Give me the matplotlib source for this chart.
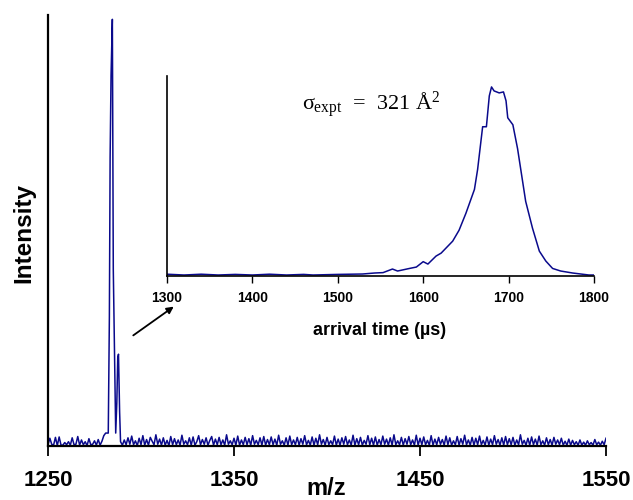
import numpy as np
import matplotlib
matplotlib.use("Agg")
import matplotlib.pyplot as plt
from matplotlib.patches import FancyArrowPatch

plt.rcParams['font.family'] = ['Liberation Sans', 'DejaVu Sans']
plt.rcParams['mathtext.fontset'] = 'custom'
plt.rcParams['mathtext.rm'] = 'Liberation Serif'
plt.rcParams['mathtext.it'] = 'Liberation Serif'

LINE = '#0a0a8c'

# --- mass spectrum (m/z vs intensity, 0-100) ---
# baseline noise, 1 m/z steps from 1250
noise_left_start = 1250
noise_left = [0.3, 1.8, 0.4, 0.2, 2.0, 0.1, 2.1, 0.2, 0.2, 0.8, 0.3, 1.0, 0.2, 1.9, 0.3, 0.4,
              2.2, 0.2, 1.4, 0.3, 1.0, 0.1, 1.7, 0.3, 0.4, 1.2, 0.2, 1.5, 0.2, 1.1, 2.4, 3.0]

# main peak + isotope peak
peak_mz = [1282.4, 1283.0, 1283.4, 1283.9, 1284.6, 1284.7, 1285.1, 1285.6, 1286.4,
           1287.0, 1287.5, 1287.9, 1288.5, 1289.0]
peak_int = [3.0, 30.0, 67.0, 86.0, 99.0, 86.0, 41.0, 26.0, 3.0, 10.0, 20.5, 21.3, 8.0, 1.0]

# baseline noise, 1 m/z steps from 1290
noise_right_start = 1290
noise_right = [
    0.2, 1.4, 0.3, 1.9, 0.4, 2.3, 0.3, 1.2, 0.1, 1.8, 0.3, 2.4, 0.2, 1.5, 0.2, 2.0, 1.1, 0.3, 2.6, 0.4,
    1.6, 0.2, 1.9, 0.2, 1.3, 0.1, 2.2, 0.3, 1.7, 0.3, 1.4, 0.2, 2.5, 0.4, 1.2, 0.3, 1.9, 0.2, 2.1, 0.2,
    1.0, 2.4, 0.3, 1.5, 0.4, 1.9, 0.2, 1.3, 2.2, 0.2, 1.6, 0.3, 2.0, 0.3, 1.4, 0.2, 2.6, 0.4, 1.2, 0.3,
    1.8, 0.2, 2.3, 0.2, 1.4, 0.3, 2.0, 0.3, 1.7, 0.2, 2.4, 0.4, 1.3, 0.3, 1.9, 0.2, 2.2, 0.2, 1.5, 0.3,
    2.1, 0.3, 1.6, 0.2, 2.5, 0.4, 1.2, 0.2, 1.9, 0.2, 2.3, 0.3, 1.4, 0.3, 2.0, 0.2, 1.7, 0.4, 2.4, 0.3,
    1.3, 0.2, 2.1, 0.2, 1.8, 0.3, 2.6, 0.4, 1.5, 0.2, 2.0, 0.3, 1.2, 0.3, 2.3, 0.2, 1.6, 0.2, 1.9, 0.4,
    2.2, 0.3, 1.4, 0.2, 2.5, 0.2, 1.7, 0.3, 2.0, 0.2, 1.3, 0.4, 2.4, 0.3, 1.8, 0.2, 2.1, 0.2, 1.5, 0.3,
    2.3, 0.4, 1.6, 0.2, 1.9, 0.2, 2.6, 0.3, 1.2, 0.3, 2.0, 0.2, 1.7, 0.4, 2.2, 0.3, 1.4, 0.2, 2.5, 0.2,
    1.8, 0.3, 2.1, 0.3, 1.3, 0.2, 2.4, 0.2, 1.6, 0.3, 2.0, 0.4, 1.5, 0.2, 2.3, 0.3, 1.9, 0.2, 1.2, 0.3,
    2.2, 0.2, 1.7, 0.4, 2.5, 0.3, 1.4, 0.2, 2.0, 0.2, 1.8, 0.3, 2.3, 0.3, 1.3, 0.2, 2.1, 0.2, 1.6, 0.3,
    2.4, 0.4, 1.5, 0.2, 1.9, 0.2, 2.2, 0.3, 1.7, 0.3, 2.0, 0.2, 1.4, 0.3, 2.6, 0.4, 1.3, 0.2, 1.8, 0.2,
    2.1, 0.3, 1.6, 0.2, 2.3, 0.3, 1.2, 0.2, 1.9, 0.3, 1.5, 0.2, 2.0, 0.4, 1.4, 0.3, 1.8, 0.2, 1.1, 0.2,
    1.6, 0.2, 1.3, 0.3, 1.0, 0.2, 1.4, 0.2, 0.9, 0.2, 1.2, 0.3, 0.8, 0.2, 1.5, 0.3, 0.9, 0.2, 1.1, 0.3,
    1.8]

mz_ticks = [1250, 1350, 1450, 1550]

# --- arrival time distribution (inset) ---
arrival_us = [1300, 1320, 1340, 1360, 1380, 1400, 1420, 1440, 1460, 1471, 1500, 1529, 1543,
              1553, 1564, 1570, 1584, 1592, 1600, 1605.5, 1615, 1621, 1634.5, 1642, 1650,
              1660, 1663.7, 1669.6, 1674, 1677.4, 1680, 1683, 1689, 1694, 1697, 1699, 1705,
              1710.5, 1720, 1728, 1736, 1743.6, 1751.5, 1761, 1775, 1794, 1800]
arrival_int = [0.004, 0.0, 0.004, 0.0, 0.003, 0.0, 0.004, 0.0, 0.003, 0.0, 0.003, 0.005, 0.01,
               0.012, 0.03, 0.02, 0.033, 0.04, 0.067, 0.055, 0.095, 0.11, 0.17, 0.225, 0.31,
               0.43, 0.53, 0.745, 0.745, 0.9, 0.945, 0.925, 0.915, 0.92, 0.875, 0.79, 0.755,
               0.635, 0.37, 0.235, 0.12, 0.07, 0.033, 0.02, 0.01, 0.0, 0.0]
at_ticks = [1300, 1400, 1500, 1600, 1700, 1800]

W, H = 633, 500
fig = plt.figure(figsize=(W / 100, H / 100), dpi=100)

# main spectrum
ax = fig.add_axes([48 / W, 1 - 446 / H, (606 - 48) / W, (446 - 15) / H])
mz = np.concatenate([noise_left_start + np.arange(len(noise_left)), peak_mz,
                     noise_right_start + np.arange(len(noise_right))])
inten = np.concatenate([noise_left, peak_int, noise_right])
ax.plot(mz, inten, color=LINE, lw=1.1)
ax.set_xlim(1250, 1550)
ax.set_ylim(0, 100)
ax.set_xticks(mz_ticks)
ax.set_yticks([])
for s in ['top', 'right']:
    ax.spines[s].set_visible(False)
for s in ['left', 'bottom']:
    ax.spines[s].set_linewidth(1.6)
ax.tick_params(axis='x', direction='out', length=7, width=1.3, pad=10, labelsize=16)
for lbl in ax.get_xticklabels():
    lbl.set_fontweight('bold')

fig.text(326 / W, 1 - 495 / H, 'm/z', ha='center', va='baseline', fontsize=17, fontweight='bold')
fig.text(24 / W, 1 - 233 / H, 'Intensity', rotation=90, ha='center', va='center',
         fontsize=17.5, fontweight='bold')

# inset
ax2 = fig.add_axes([167 / W, 1 - 276 / H, (594 - 167) / W, (276 - 76) / H])
ax2.plot(arrival_us, arrival_int, color=LINE, lw=1.1)
ax2.set_xlim(1300, 1800)
ax2.set_ylim(-0.005, 1.0)
ax2.set_xticks(at_ticks)
ax2.set_yticks([])
ax2.patch.set_alpha(0)
for s in ['top', 'right']:
    ax2.spines[s].set_visible(False)
for s in ['left', 'bottom']:
    ax2.spines[s].set_linewidth(1.2)
ax2.tick_params(axis='x', direction='out', length=5, width=1.0, pad=6, labelsize=10)
for lbl in ax2.get_xticklabels():
    lbl.set_fontweight('bold')

fig.text(380 / W, 1 - 335 / H, 'arrival time (\u00b5s)', ha='center', va='baseline',
         fontsize=13, fontweight='bold')
ax2.text((302 - 167) / 427, (276 - 110) / 200, '$\\sigma_{\\rm expt}$  =  321 \u00c5$^{2}$',
         transform=ax2.transAxes, ha='left', va='baseline', fontsize=16,
         family=['Liberation Serif', 'DejaVu Serif'])

arrow = FancyArrowPatch((131 / W, 1 - 337 / H), (176 / W, 1 - 305 / H),
                        transform=fig.transFigure, arrowstyle='-|>', mutation_scale=10,
                        lw=1.3, color='black')
fig.add_artist(arrow)

fig.savefig('out.png', dpi=100)
